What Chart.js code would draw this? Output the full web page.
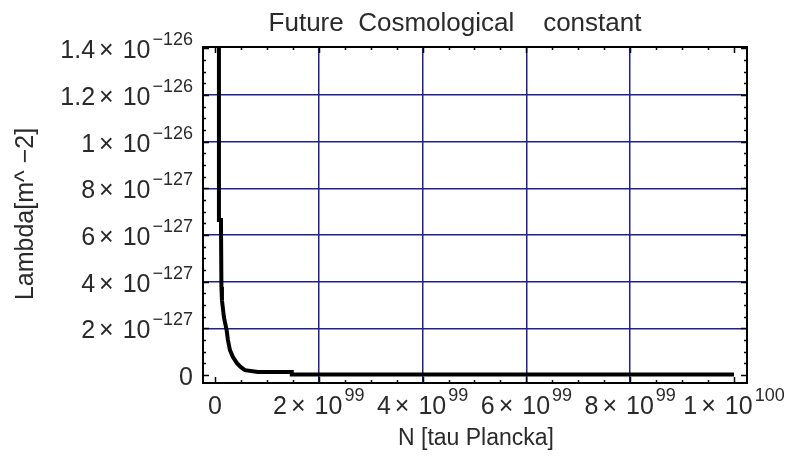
<!DOCTYPE html>
<html>
<head>
<meta charset="utf-8">
<script src="https://cdn.jsdelivr.net/npm/chart.js@4"></script>
<style>
body { margin: 0; background: #fff; }
</style>
</head>
<body>
<canvas id="grafico" width="790" height="464"></canvas>
<script>
// valores (N em tau Planck, Lambda em m^-2)
const nValues = [0.077e99, 0.077e99, 0.116e99, 0.125e99, 0.135e99, 0.173e99, 0.225e99, 0.25e99, 0.289e99,
    0.347e99, 0.424e99, 0.5e99, 0.578e99, 0.83e99, 1.48e99, 1.48e99, 10.0e99];
const lambdaValues = [2.0e-126, 6.64e-127, 6.64e-127, 3.77e-127, 3.21e-127, 2.48e-127, 1.93e-127, 1.5e-127, 1.07e-127,
    0.77e-127, 0.51e-127, 0.34e-127, 0.21e-127, 0.13e-127, 0.13e-127, 0.02e-127, 0.02e-127];

const xTicks = [0, 2e99, 4e99, 6e99, 8e99, 1e100];
const xTickLabels = ['0', '2×10^99', '4×10^99', '6×10^99', '8×10^99', '1×10^100'];
const yTicks = [0, 2e-127, 4e-127, 6e-127, 8e-127, 1e-126, 1.2e-126, 1.4e-126];
const yTickLabels = ['0', '2×10^−127', '4×10^−127', '6×10^−127', '8×10^−127', '1×10^−126', '1.2×10^−126', '1.4×10^−126'];

const titulo = 'Future  Cosmological    constant';
const tituloX = 'N [tau Plancka]';
const tituloY = 'Lambda[m^ −2]';

const azul = '#20208f';
const corTexto = '#2a2a2a';
const fonte = '"Liberation Sans", Arial, sans-serif';

// rótulo estilo Mathematica: mantissa × 10 ^ expoente
function escreveRotulo(ctx, texto, x, y, align) {
    const [base, sup] = texto.split('^');
    const pedacos = base.split('×');
    const partes = [];
    if (pedacos.length === 2) {
        partes.push({ t: pedacos[0], f: 25, dy: 0, gap: 4 });
        partes.push({ t: '×', f: 25, dy: 0, gap: 9 });
        partes.push({ t: pedacos[1], f: 25, dy: 0, gap: 2 });
        partes.push({ t: sup, f: 18, dy: -13, gap: 0 });
    } else {
        partes.push({ t: base, f: 25, dy: 0, gap: 0 });
    }
    let total = 0;
    partes.forEach(p => {
        ctx.font = p.f + 'px ' + fonte;
        p.w = ctx.measureText(p.t).width;
        total += p.w + p.gap;
    });
    let px = align === 'right' ? x - total : x - total / 2;
    ctx.textAlign = 'left';
    ctx.textBaseline = 'alphabetic';
    partes.forEach(p => {
        ctx.font = p.f + 'px ' + fonte;
        ctx.fillText(p.t, px, y + p.dy);
        px += p.w + p.gap;
    });
}

const moldura = {
    id: 'moldura',
    afterDraw(chart) {
        const { ctx, chartArea: a, scales: { x, y } } = chart;
        ctx.save();
        ctx.strokeStyle = '#000';
        ctx.lineWidth = 1.5;
        ctx.beginPath();
        // marcas menores e maiores, dentro da moldura
        for (let i = 0; i <= 20; i++) {
            const px = Math.round(x.getPixelForValue(i * 0.5e99)) + 0.5;
            const len = i % 4 === 0 ? 6 : 3;
            ctx.moveTo(px, a.bottom); ctx.lineTo(px, a.bottom - len);
            ctx.moveTo(px, a.top); ctx.lineTo(px, a.top + len);
        }
        for (let i = 0; i <= 28; i++) {
            const py = Math.round(y.getPixelForValue(i * 0.5e-127)) + 0.5;
            const len = i % 4 === 0 ? 6 : 3;
            ctx.moveTo(a.left, py); ctx.lineTo(a.left + len, py);
            ctx.moveTo(a.right, py); ctx.lineTo(a.right - len, py);
        }
        ctx.stroke();
        ctx.lineWidth = 2;
        ctx.strokeRect(a.left, a.top, a.right - a.left, a.bottom - a.top);

        ctx.fillStyle = corTexto;
        xTicks.forEach((v, i) => escreveRotulo(ctx, xTickLabels[i], x.getPixelForValue(v), 414, 'center'));
        yTicks.forEach((v, i) => escreveRotulo(ctx, yTickLabels[i], 193, y.getPixelForValue(v) + 10, 'right'));

        ctx.textAlign = 'center';
        ctx.font = '26px ' + fonte;
        ctx.fillText(titulo, 455, 31);
        ctx.font = '23px ' + fonte;
        ctx.fillText(tituloX, 476, 445);
        ctx.translate(33, 214);
        ctx.rotate(-Math.PI / 2);
        ctx.font = '25px ' + fonte;
        ctx.fillText(tituloY, 0, 0);
        ctx.restore();
    }
};

function gradeCor(c) {
    const n = c.chart.scales[c.scale.id].ticks.length;
    return (c.index === 0 || c.index === n - 1) ? 'rgba(0,0,0,0)' : azul;
}

new Chart(document.getElementById('grafico'), {
    type: 'line',
    data: {
        datasets: [{
            data: nValues.map((n, i) => ({ x: n, y: lambdaValues[i] })),
            borderColor: '#000',
            borderWidth: 4,
            pointRadius: 0,
            tension: 0
        }]
    },
    options: {
        responsive: false,
        animation: false,
        layout: { padding: { left: 203, right: 43, top: 47, bottom: 81 } },
        plugins: { legend: { display: false }, tooltip: { enabled: false } },
        scales: {
            x: {
                type: 'linear', min: -0.23e99, max: 10.25e99,
                afterBuildTicks: s => { s.ticks = xTicks.map(v => ({ value: v })); },
                ticks: { display: false },
                border: { display: false },
                grid: { color: gradeCor, lineWidth: 1.5, drawTicks: false }
            },
            y: {
                type: 'linear', min: -0.34e-127, max: 1.405e-126,
                afterBuildTicks: s => { s.ticks = yTicks.map(v => ({ value: v })); },
                ticks: { display: false },
                border: { display: false },
                grid: { color: gradeCor, lineWidth: 1.5, drawTicks: false }
            }
        }
    },
    plugins: [moldura]
});
</script>
</body>
</html>
